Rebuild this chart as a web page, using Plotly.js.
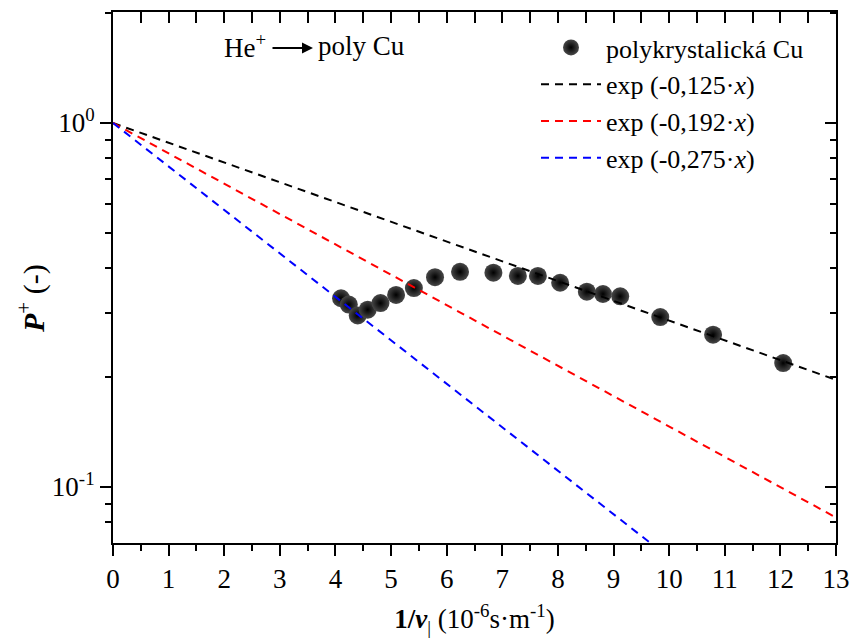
<!DOCTYPE html>
<html>
<head>
<meta charset="utf-8">
<script src="https://cdn.plot.ly/plotly-3.0.1.min.js"></script>
<style>
  html, body { margin: 0; padding: 0; background: #fff; }
  #chart { width: 850px; height: 642px; }
</style>
</head>
<body>
<div id="chart"></div>
<script>
// Measured survival probability of He+ ions on polycrystalline Cu
const invVelocity = [4.10, 4.24, 4.40, 4.58, 4.81, 5.09, 5.41, 5.79, 6.24, 6.84, 7.28, 7.64, 8.04, 8.52, 8.81, 9.12, 9.84, 10.79, 12.05];
const survivalProb = [0.330, 0.317, 0.296, 0.307, 0.320, 0.337, 0.352, 0.377, 0.390, 0.388, 0.380, 0.380, 0.364, 0.344, 0.339, 0.334, 0.293, 0.262, 0.219];

// Exponential decay curves exp(-k·x) and their legend labels
const decayRates = [0.125, 0.192, 0.275];
const decayLabels = ['0,125', '0,192', '0,275'];
const decayColors = ['#000000', '#ff0000', '#0000ff'];
const curveX = [0, 0.5, 1, 1.5, 2, 2.5, 3, 3.5, 4, 4.5, 5, 5.5, 6, 6.5, 7, 7.5, 8, 8.5, 9, 9.5, 10, 10.5, 11, 11.5, 12, 12.5, 13];

// Axis tick values and labels
const xTicks = [0, 1, 2, 3, 4, 5, 6, 7, 8, 9, 10, 11, 12, 13];
const yTicks = [0.1, 1];
const yTickText = ['10<sup>-1</sup>', '10<sup>0</sup>'];
const yMinorTicks = [0.07, 0.08, 0.09, 0.2, 0.3, 0.4, 0.5, 0.6, 0.7, 0.8, 0.9, 2];

const serif = 'Liberation Serif';
const FS = 27;

const traces = [];
traces.push({
  x: invVelocity, y: survivalProb,
  type: 'scatter', mode: 'markers',
  name: 'polykrystalická Cu', legendgroup: 'g0',
  marker: {
    size: 18, color: '#484848',
    gradient: {type: 'radial', color: '#000000'},
    line: {width: 0}
  },
  hoverinfo: 'x+y'
});
decayRates.forEach(function (k, i) {
  traces.push({
    x: curveX,
    y: curveX.map(function (v) { return Math.exp(-k * v); }),
    type: 'scatter', mode: 'lines',
    name: 'exp (-' + decayLabels[i] + '·<i>x</i>)',
    legendgroup: 'g' + (i + 1),
    line: {color: decayColors[i], width: 2, dash: '8px,6px'}
  });
});
// carrier trace for the mirrored top/right axes
traces.push({
  x: invVelocity, y: survivalProb, xaxis: 'x2', yaxis: 'y2',
  type: 'scatter', mode: 'markers', marker: {opacity: 0},
  showlegend: false, hoverinfo: 'skip'
});

const W = 723, H = 531, L = 113, T = 12;
function px(x) { return (x - L) / W; }
function py(y) { return (T + H - y) / H; }

const xRange = [0, 13];
const yRange = [-1.154, 0.305];

const layout = {
  width: 850, height: 642,
  margin: {l: L, r: 14, t: T, b: 99},
  paper_bgcolor: '#ffffff', plot_bgcolor: '#ffffff',
  font: {family: serif, size: FS, color: '#000'},
  showlegend: true,
  legend: {
    x: px(536), y: py(24), xanchor: 'left', yanchor: 'top',
    bgcolor: 'rgba(0,0,0,0)', borderwidth: 0, itemwidth: 60,
    font: {family: serif, size: 26, color: '#000'},
    tracegroupgap: 0, traceorder: 'grouped'
  },
  xaxis: {
    range: xRange, tickmode: 'array', tickvals: xTicks,
    ticks: 'outside', ticklen: 11, tickwidth: 2, tickcolor: '#000',
    minor: {dtick: 0.5, ticks: 'outside', ticklen: 6, tickwidth: 2, tickcolor: '#000'},
    showline: true, linewidth: 2, linecolor: '#000',
    showgrid: false, zeroline: false,
    tickfont: {family: serif, size: FS, color: '#000'},
    title: {text: '<b>1/<i>v</i></b><sub>|</sub> (10<sup>-6</sup>s·m<sup>-1</sup>)', font: {family: serif, size: FS, color: '#000'}, standoff: 16}
  },
  yaxis: {
    type: 'log', range: yRange, tickmode: 'array', tickvals: yTicks, ticktext: yTickText,
    ticks: 'outside', ticklen: 11, tickwidth: 2, tickcolor: '#000',
    minor: {tickmode: 'array', tickvals: yMinorTicks, ticks: 'outside', ticklen: 6, tickwidth: 2, tickcolor: '#000'},
    showline: true, linewidth: 2, linecolor: '#000',
    showgrid: false, zeroline: false,
    tickfont: {family: serif, size: FS, color: '#000'}
  },
  xaxis2: {
    overlaying: 'x', side: 'top', anchor: 'y', range: xRange,
    tickmode: 'array', tickvals: xTicks, showticklabels: false,
    ticks: 'inside', ticklen: 11, tickwidth: 2, tickcolor: '#000',
    minor: {dtick: 0.5, ticks: 'inside', ticklen: 11, tickwidth: 2, tickcolor: '#000'},
    showline: true, linewidth: 2, linecolor: '#000', showgrid: false, zeroline: false
  },
  yaxis2: {
    overlaying: 'y', side: 'right', anchor: 'x', type: 'log', range: yRange,
    tickmode: 'array', tickvals: yTicks, showticklabels: false,
    ticks: 'inside', ticklen: 11, tickwidth: 2, tickcolor: '#000',
    minor: {tickmode: 'array', tickvals: yMinorTicks, ticks: 'inside', ticklen: 6, tickwidth: 2, tickcolor: '#000'},
    showline: true, linewidth: 2, linecolor: '#000', showgrid: false, zeroline: false
  },
  annotations: [
    // y-axis title
    {xref: 'paper', yref: 'paper', x: px(31), y: py(299), xanchor: 'center', yanchor: 'middle',
     textangle: -90, text: '<b><i>P</i></b><sup>+</sup> (-)', showarrow: false,
     font: {family: serif, size: 30, color: '#000'}},
    // He+ -> poly Cu label
    {xref: 'paper', yref: 'paper', x: px(222), y: py(46), xanchor: 'left', yanchor: 'middle',
     text: 'He<sup>+</sup>', showarrow: false, font: {family: serif, size: FS, color: '#000'}},
    {xref: 'paper', yref: 'paper', x: px(313), y: py(48), ax: -42, ay: 0,
     text: '', showarrow: true, arrowhead: 2, arrowsize: 1.1, arrowwidth: 2, arrowcolor: '#000'},
    {xref: 'paper', yref: 'paper', x: px(316), y: py(46), xanchor: 'left', yanchor: 'middle',
     text: 'poly Cu', showarrow: false, font: {family: serif, size: FS, color: '#000'}}
  ]
};

Plotly.newPlot('chart', traces, layout, {displayModeBar: false, staticPlot: true});
</script>
</body>
</html>
